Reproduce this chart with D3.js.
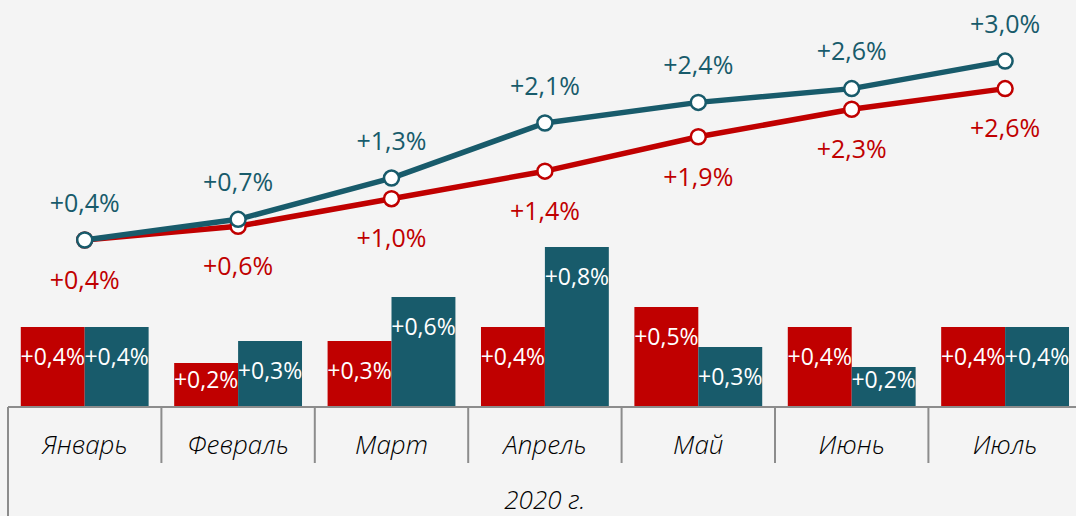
<!DOCTYPE html>
<html>
<head>
<meta charset="utf-8">
<script src="https://cdn.jsdelivr.net/npm/d3@7"></script>
<style>
  html, body { margin: 0; padding: 0; background: #f4f4f4; overflow: hidden; }
  text { font-family: "Open Sans", "Noto Sans", sans-serif; }
</style>
</head>
<body>
<div id="chart"></div>
<script>
// data
const months = ["Январь", "Февраль", "Март", "Апрель", "Май", "Июнь", "Июль"];
const yearLabel = "2020 г.";
const redBars = [0.40, 0.22, 0.33, 0.40, 0.50, 0.40, 0.40];
const tealBars = [0.40, 0.33, 0.55, 0.80, 0.30, 0.20, 0.40];
const redBarLabels = ["+0,4%", "+0,2%", "+0,3%", "+0,4%", "+0,5%", "+0,4%", "+0,4%"];
const tealBarLabels = ["+0,4%", "+0,3%", "+0,6%", "+0,8%", "+0,3%", "+0,2%", "+0,4%"];
const redLine = [0.4, 0.6, 1.0, 1.4, 1.9, 2.3, 2.6];
const tealLine = [0.4, 0.7, 1.3, 2.1, 2.4, 2.6, 3.0];
const redLineLabels = ["+0,4%", "+0,6%", "+1,0%", "+1,4%", "+1,9%", "+2,3%", "+2,6%"];
const tealLineLabels = ["+0,4%", "+0,7%", "+1,3%", "+2,1%", "+2,4%", "+2,6%", "+3,0%"];

const width = 1076;
const height = 516;
const red = "#c00000";
const teal = "#185b6b";
const axisY = 407;

const svg = d3.select("#chart")
  .append("svg")
  .attr("width", width)
  .attr("height", height);

svg.append("rect")
  .attr("width", width)
  .attr("height", height)
  .attr("fill", "#f4f4f4");

// scales
const xScale = d3.scaleBand()
  .domain(months)
  .range([8, 8 + 7 * 153.4]);

const subScale = d3.scaleBand()
  .domain(["red", "teal"])
  .range([0, xScale.bandwidth()])
  .paddingOuter(0.2);

const barScale = d3.scaleLinear()
  .domain([0, 1])
  .range([axisY, 207]);

const lineScale = d3.scaleLinear()
  .domain([0, 3])
  .range([267.5, 61.1]);

const cx = m => xScale(m) + xScale.bandwidth() / 2;

// bars
const barData = [];
months.forEach((m, i) => {
  barData.push({ m: m, key: "red", v: redBars[i], label: redBarLabels[i], color: red });
  barData.push({ m: m, key: "teal", v: tealBars[i], label: tealBarLabels[i], color: teal });
});

svg.selectAll("rect.bar")
  .data(barData)
  .enter().append("rect")
  .attr("class", "bar")
  .attr("x", d => xScale(d.m) + subScale(d.key))
  .attr("y", d => barScale(d.v))
  .attr("width", subScale.bandwidth())
  .attr("height", d => axisY - barScale(d.v))
  .attr("fill", d => d.color);

svg.selectAll("text.barlabel")
  .data(barData)
  .enter().append("text")
  .attr("class", "barlabel")
  .attr("x", d => xScale(d.m) + subScale(d.key) + subScale.bandwidth() / 2)
  .attr("y", d => Math.min(barScale(d.v) + 30, 380))
  .attr("dy", "0.35em")
  .attr("text-anchor", "middle")
  .attr("fill", "#ffffff")
  .style("font-size", "23px")
  .text(d => d.label);

// axis
const axis = svg.append("g").attr("id", "x-axis");
axis.append("line")
  .attr("x1", 8).attr("x2", width)
  .attr("y1", axisY).attr("y2", axisY)
  .attr("stroke", "#8c8c8c").attr("stroke-width", 2);

axis.selectAll("line.tick")
  .data(months.slice(1))
  .enter().append("line")
  .attr("class", "tick")
  .attr("x1", d => xScale(d)).attr("x2", d => xScale(d))
  .attr("y1", axisY).attr("y2", 463)
  .attr("stroke", "#8c8c8c").attr("stroke-width", 2);

axis.append("line")
  .attr("x1", 8).attr("x2", 8)
  .attr("y1", axisY).attr("y2", height)
  .attr("stroke", "#8c8c8c").attr("stroke-width", 2);

axis.selectAll("text.month")
  .data(months)
  .enter().append("text")
  .attr("class", "month")
  .attr("x", d => cx(d))
  .attr("y", 445)
  .attr("dy", "0.35em")
  .attr("text-anchor", "middle")
  .attr("fill", "#000000")
  .style("font-size", "26px")
  .style("font-style", "italic")
  .style("font-weight", 300)
  .text(d => d);

axis.append("text")
  .attr("x", (xScale.range()[0] + xScale.range()[1]) / 2)
  .attr("y", 500)
  .attr("dy", "0.35em")
  .attr("text-anchor", "middle")
  .attr("fill", "#000000")
  .style("font-size", "26px")
  .style("font-style", "italic")
  .style("font-weight", 300)
  .text(yearLabel);

// lines
const line = d3.line()
  .x((d, i) => cx(months[i]))
  .y(d => lineScale(d));

[[redLine, red], [tealLine, teal]].forEach(([vals, color]) => {
  svg.append("path")
    .datum(vals)
    .attr("d", line)
    .attr("fill", "none")
    .attr("stroke", color)
    .attr("stroke-width", 5.5)
    .attr("stroke-linejoin", "round");
  svg.append("g").selectAll("circle")
    .data(vals)
    .enter().append("circle")
    .attr("cx", (d, i) => cx(months[i]))
    .attr("cy", d => lineScale(d))
    .attr("r", 7.5)
    .attr("fill", "#ffffff")
    .attr("stroke", color)
    .attr("stroke-width", 2.5);
});

// line labels
svg.selectAll("text.redlabel")
  .data(redLine)
  .enter().append("text")
  .attr("class", "redlabel")
  .attr("x", (d, i) => cx(months[i]))
  .attr("y", d => lineScale(d) + 40)
  .attr("dy", "0.35em")
  .attr("text-anchor", "middle")
  .attr("fill", red)
  .style("font-size", "25px")
  .text((d, i) => redLineLabels[i]);

svg.selectAll("text.teallabel")
  .data(tealLine)
  .enter().append("text")
  .attr("class", "teallabel")
  .attr("x", (d, i) => cx(months[i]))
  .attr("y", d => lineScale(d) - 37)
  .attr("dy", "0.35em")
  .attr("text-anchor", "middle")
  .attr("fill", teal)
  .style("font-size", "25px")
  .text((d, i) => tealLineLabels[i]);
</script>
</body>
</html>
